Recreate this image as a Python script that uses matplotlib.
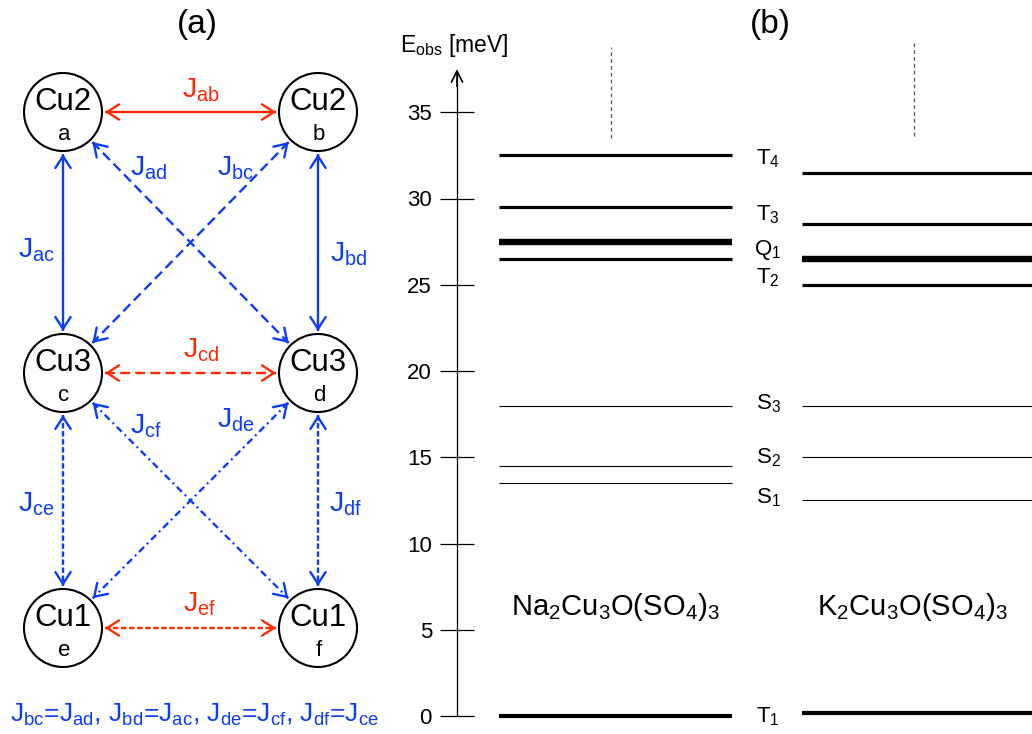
import numpy as np
import matplotlib
matplotlib.use("Agg")
import matplotlib.pyplot as plt
from matplotlib.patches import Circle

plt.rcParams["font.family"] = ["Liberation Sans", "DejaVu Sans"]
plt.rcParams["mathtext.fontset"] = "custom"
plt.rcParams["mathtext.rm"] = "Liberation Sans"
plt.rcParams["mathtext.it"] = "Liberation Sans:italic"

# -----------------------------------------
# Data
# -----------------------------------------

# exchange network (a)
node_names = ["a", "b", "c", "d", "e", "f"]
node_atoms = ["Cu2", "Cu2", "Cu3", "Cu3", "Cu1", "Cu1"]

links = [
    ("a", "b", "red", "solid"),
    ("a", "c", "blue", "solid"),
    ("b", "d", "blue", "solid"),
    ("a", "d", "blue", "dashed"),
    ("b", "c", "blue", "dashed"),
    ("c", "d", "red", "dashed"),
    ("c", "e", "blue", "short"),
    ("d", "f", "blue", "short"),
    ("c", "f", "blue", "dashdot"),
    ("d", "e", "blue", "dashdot"),
    ("e", "f", "red", "short"),
]

equal_pairs = [("bc", "ad"), ("bd", "ac"), ("de", "cf"), ("df", "ce")]

# observed levels (b) in meV
state_names = ["T$_4$", "T$_3$", "Q$_1$", "T$_2$", "S$_3$", "S$_2$", "S$_1$", "T$_1$"]
state_kind = ["T", "T", "Q", "T", "S", "S", "S", "T"]
e_na = [32.5, 29.5, 27.5, 26.5, 18.0, 14.5, 13.5, 0.0]
e_k = [31.5, 28.5, 26.5, 25.0, 18.0, 15.0, 12.5, 0.2]
label_e = [31.95, 28.75, 26.7, 25.1, 17.75, 14.65, 12.3, -0.35]

compounds = ["Na$_2$Cu$_3$O(SO$_4$)$_3$", "K$_2$Cu$_3$O(SO$_4$)$_3$"]
ticks = [0, 5, 10, 15, 20, 25, 30, 35]

# -----------------------------------------
# Layout / style
# -----------------------------------------

W, H = 1032, 734
RED = "#ff2a00"
BLUE = "#0a3cff"
colors = {"red": RED, "blue": BLUE}
styles = {
    "solid": "-",
    "dashed": (0, (4.2, 2.2)),
    "short": (0, (2.3, 1.1)),
    "dashdot": (0, (3.0, 1.7, 0.8, 1.7)),
}
NARROW = ["Liberation Sans Narrow", "Liberation Sans"]

col_x = [63, 318]
row_y = [112, 373, 628]
node_pos = {}
for i, n in enumerate(node_names):
    node_pos[n] = (col_x[i % 2], row_y[i // 2])
R = 39

j_label_pos = {
    "ab": (182, 98, RED), "ad": (130, 175, BLUE), "bc": (217, 175, BLUE),
    "ac": (18, 258, BLUE), "bd": (330, 262, BLUE), "cd": (183, 358, RED),
    "cf": (130, 433, BLUE), "de": (217, 428, BLUE), "ce": (18, 512, BLUE),
    "df": (329, 512, BLUE), "ef": (183, 612, RED),
}

fig = plt.figure(figsize=(W / 100, H / 100), dpi=100)

# -----------------------------------------
# Panel (a)
# -----------------------------------------

ax0 = fig.add_axes([0, 0, 1, 1])
ax0.set_xlim(0, W)
ax0.set_ylim(H, 0)
ax0.axis("off")

for n, atom in zip(node_names, node_atoms):
    x, y = node_pos[n]
    ax0.add_patch(Circle((x, y), R, fill=False, lw=1.5, ec="black", zorder=3))
    ax0.text(x, y - 2, atom, fontsize=22.5, ha="center", va="baseline")
    ax0.text(x + 1, y + 28, n, fontsize=16, ha="center", va="baseline")

for n1, n2, c, s in links:
    p1 = np.array(node_pos[n1], dtype=float)
    p2 = np.array(node_pos[n2], dtype=float)
    u = (p2 - p1) / np.linalg.norm(p2 - p1)
    a = p1 + u * (R + 3)
    b = p2 - u * (R + 3)
    ax0.plot([a[0], b[0]], [a[1], b[1]], color=colors[c], lw=1.7,
             linestyle=styles[s], solid_capstyle="butt", dash_capstyle="butt")
    for tip, d in [(a, -u), (b, u)]:
        ax0.annotate("", xy=tip, xytext=tip - d * 2,
                     arrowprops=dict(arrowstyle="->,head_length=0.85,head_width=0.55",
                                     color=colors[c], lw=1.7,
                                     shrinkA=0, shrinkB=0, mutation_scale=10))

for key, (x, y, c) in j_label_pos.items():
    ax0.text(x, y, "J$_\\mathrm{" + key + "}$", color=c, fontsize=20.5,
             ha="left", va="baseline")

eq = ", ".join("J$_\\mathrm{%s}$=J$_\\mathrm{%s}$" % p for p in equal_pairs)
ax0.text(10, 722, eq, color=BLUE, fontsize=19, ha="left", va="baseline")

ax0.text(197, 33, "(a)", fontsize=24, ha="center", va="baseline")
ax0.text(770, 33, "(b)", fontsize=24, ha="center", va="baseline")

# -----------------------------------------
# Panel (b)
# -----------------------------------------

px_per_mev = 17.25
ax = fig.add_axes([457 / W, 0, 1 - 457 / W, 1])
ax.patch.set_alpha(0)
ax.set_xlim(0, W - 457)
ax.set_ylim(-(H - 716) / px_per_mev, 716 / px_per_mev)

for s in ["top", "right", "bottom"]:
    ax.spines[s].set_visible(False)
ax.spines["left"].set_bounds(0, 37.2)
ax.spines["left"].set_linewidth(0.9)
ax.set_xticks([])
ax.set_yticks(ticks)
ax.tick_params(axis="y", direction="inout", length=24, width=0.9, pad=6,
               labelsize=16)
for lab in ax.get_yticklabels():
    lab.set_family(NARROW)

ax.annotate("", xy=(0, 37.5), xytext=(0, 36.5),
            arrowprops=dict(arrowstyle="->,head_length=0.8,head_width=0.4",
                            color="black", lw=1.2, shrinkA=0, shrinkB=0,
                            mutation_scale=10))
ax.text(-3, 38.5, "E$_\\mathrm{obs}$ [meV]", fontsize=16.5, ha="center",
        va="baseline", family=NARROW)

widths = {"T": 2.3, "Q": 4.6, "S": 0.8}
t1_width = 3.0
na_x = (42, 275)
k_x = (345, 600)
for name, kind, en, ek, le in zip(state_names, state_kind, e_na, e_k, label_e):
    lw = t1_width if name == "T$_1$" else widths[kind]
    ax.plot(na_x, [en, en], color="black", lw=lw, solid_capstyle="butt")
    ax.plot(k_x, [ek, ek], color="black", lw=lw, solid_capstyle="butt")
    ax.text(311, le, name, fontsize=16, ha="center", va="baseline",
            family=NARROW)

ax.plot([154, 154], [33.5, 38.8], color="#555555", lw=0.9, ls=(0, (3, 2.5)))
ax.plot([457, 457], [33.6, 39.0], color="#555555", lw=0.9, ls=(0, (3, 2.5)))

ax.text(158, 5.86, compounds[0], fontsize=21, ha="center", va="baseline",
        family=NARROW)
ax.text(455, 5.86, compounds[1], fontsize=21, ha="center", va="baseline",
        family=NARROW)

fig.savefig("out.png", dpi=100)
